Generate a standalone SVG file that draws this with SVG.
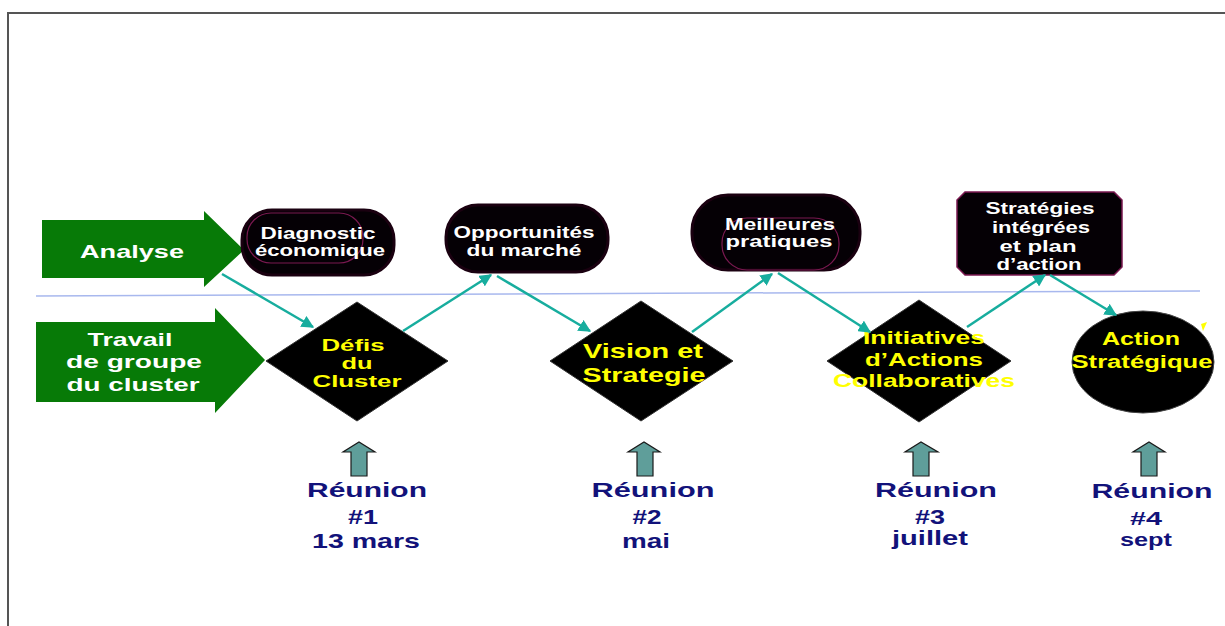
<svg xmlns="http://www.w3.org/2000/svg" width="1225" height="626" viewBox="0 0 1225 626">
<defs>
<style>
text{font-family:"Liberation Sans",Arial,sans-serif;font-weight:bold;text-anchor:middle}
.w{fill:#ffffff;font-size:16px}
.y{fill:#ffff00}
.g{fill:#ffffff;font-size:19px}
.n{fill:#12127a;font-size:21px}
.box{fill:#050005;stroke:#1a0010;stroke-width:3}
.inner{fill:none;stroke:#7a1850;stroke-width:1.2}
.dia{fill:#000000;stroke:#333;stroke-width:1}
.green{fill:#077a07}
.con{stroke:#17ad9e;stroke-width:2.5;fill:none;marker-end:url(#ah)}
.up{fill:#5f9e9a;stroke:#1a1a1a;stroke-width:1.2}
</style>
<marker id="ah" viewBox="0 0 10 10" refX="9" refY="5" markerWidth="5" markerHeight="5" orient="auto" markerUnits="strokeWidth">
<path d="M0,0 L10,5 L0,10 z" fill="#17ad9e"/>
</marker>
</defs>
<rect width="1225" height="626" fill="#ffffff"/>
<path d="M8,626 V13 H1225" fill="none" stroke="#555" stroke-width="2"/>
<line x1="36" y1="296" x2="1200" y2="291" stroke="#a8b8ee" stroke-width="1.5"/>

<g id="analyse">
<path class="green" d="M42,220 H204 V211 L244,250 L204,287 V278 H42 Z"/>
<text class="g" x="132" y="258" textLength="104" lengthAdjust="spacingAndGlyphs">Analyse</text>
</g>
<g id="travail">
<path class="green" d="M36,322 H215 V308 L265,360 L215,413 V402 H36 Z"/>
<text class="g" x="130" y="346" textLength="85" lengthAdjust="spacingAndGlyphs">Travail</text>
<text class="g" x="134" y="368" textLength="136" lengthAdjust="spacingAndGlyphs">de groupe</text>
<text class="g" x="133" y="391" textLength="133" lengthAdjust="spacingAndGlyphs">du cluster</text>
</g>

<g id="diagnostic">
<rect class="box" x="242" y="210" width="152" height="65" rx="30"/>
<rect class="inner" x="247" y="213" width="116" height="50" rx="24"/>
<text class="w" x="318" y="239" textLength="115" lengthAdjust="spacingAndGlyphs">Diagnostic</text>
<text class="w" x="320" y="256" textLength="130" lengthAdjust="spacingAndGlyphs">économique</text>
</g>
<g id="opportunites">
<rect class="box" x="446" y="205" width="162" height="67" rx="32"/>
<text class="w" x="524" y="238" textLength="141" lengthAdjust="spacingAndGlyphs">Opportunités</text>
<text class="w" x="524" y="256" textLength="115" lengthAdjust="spacingAndGlyphs">du marché</text>
</g>
<g id="meilleures">
<rect class="box" x="692" y="195" width="168" height="75" rx="36"/>
<rect class="inner" x="722" y="218" width="117" height="52" rx="25"/>
<text class="w" x="780" y="230" textLength="110" lengthAdjust="spacingAndGlyphs">Meilleures</text>
<text class="w" x="779" y="247" textLength="107" lengthAdjust="spacingAndGlyphs">pratiques</text>
</g>
<g id="strategies">
<path d="M965,192 H1114 L1122,200 V267 L1114,275 H965 L957,267 V200 Z" fill="#050005" stroke="#7a1850" stroke-width="1.5"/>
<text class="w" x="1040" y="214" textLength="109" lengthAdjust="spacingAndGlyphs">Stratégies</text>
<text class="w" x="1041" y="233" textLength="98" lengthAdjust="spacingAndGlyphs">intégrées</text>
<text class="w" x="1038" y="252" textLength="77" lengthAdjust="spacingAndGlyphs">et plan</text>
<text class="w" x="1039" y="270" textLength="85" lengthAdjust="spacingAndGlyphs">d’action</text>
</g>

<g id="defis">
<path class="dia" d="M357,302 L448,361 L357,421 L266,361 Z"/>
<text class="y" style="font-size:17px" x="353" y="351" textLength="63" lengthAdjust="spacingAndGlyphs">Défis</text>
<text class="y" style="font-size:17px" x="357" y="369" textLength="31" lengthAdjust="spacingAndGlyphs">du</text>
<text class="y" style="font-size:17px" x="357" y="387" textLength="89" lengthAdjust="spacingAndGlyphs">Cluster</text>
</g>
<g id="vision">
<path class="dia" d="M641,301 L733,361 L641,421 L550,361 Z"/>
<text class="y" style="font-size:21px" x="643" y="358" textLength="120" lengthAdjust="spacingAndGlyphs">Vision et</text>
<text class="y" style="font-size:21px" x="644" y="382" textLength="123" lengthAdjust="spacingAndGlyphs">Strategie</text>
</g>
<g id="initiatives">
<path class="dia" d="M919,300 L1011,361 L919,422 L827,361 Z" stroke="#777"/>
<text class="y" style="font-size:18px" x="924" y="344" textLength="122" lengthAdjust="spacingAndGlyphs">Initiatives</text>
<text class="y" style="font-size:18px" x="924" y="366" textLength="118" lengthAdjust="spacingAndGlyphs">d’Actions</text>
<text class="y" style="font-size:18px" x="924" y="387" textLength="182" lengthAdjust="spacingAndGlyphs">Collaboratives</text>
</g>
<g id="action">
<ellipse cx="1143" cy="362" rx="71" ry="51" fill="#000000" stroke="#444" stroke-width="1"/>
<path d="M1201,324 L1207,322 L1203,331 Z" fill="#ffff00"/>
<text class="y" style="font-size:18px" x="1141" y="345" textLength="78" lengthAdjust="spacingAndGlyphs">Action</text>
<text class="y" style="font-size:18px" x="1142" y="368" textLength="141" lengthAdjust="spacingAndGlyphs">Stratégique</text>
</g>

<g id="connectors">
<line class="con" x1="222" y1="274" x2="313" y2="327"/>
<line class="con" x1="403" y1="331" x2="491" y2="275"/>
<line class="con" x1="497" y1="276" x2="590" y2="331"/>
<line class="con" x1="692" y1="332" x2="772" y2="274"/>
<line class="con" x1="778" y1="273" x2="870" y2="332"/>
<line class="con" x1="967" y1="327" x2="1045" y2="275"/>
<line class="con" x1="1050" y1="275" x2="1116" y2="315"/>
</g>

<g id="reunion1">
<path class="up" d="M351,476 V452 H343 L359,442 L375,452 H367 V476 Z"/>
<text class="n" x="367" y="497" textLength="120" lengthAdjust="spacingAndGlyphs">Réunion</text>
<text class="n" x="363" y="524" textLength="30" lengthAdjust="spacingAndGlyphs">#1</text>
<text class="n" x="366" y="548" textLength="108" lengthAdjust="spacingAndGlyphs">13 mars</text>
</g>
<g id="reunion2">
<path class="up" d="M637,476 V452 H628 L644,442 L660,452 H653 V476 Z"/>
<text class="n" x="653" y="497" textLength="123" lengthAdjust="spacingAndGlyphs">Réunion</text>
<text class="n" x="647" y="524" textLength="29" lengthAdjust="spacingAndGlyphs">#2</text>
<text class="n" x="646" y="548" textLength="48" lengthAdjust="spacingAndGlyphs">mai</text>
</g>
<g id="reunion3">
<path class="up" d="M913,476 V452 H905 L921,442 L938,452 H929 V476 Z"/>
<text class="n" x="936" y="497" textLength="122" lengthAdjust="spacingAndGlyphs">Réunion</text>
<text class="n" x="930" y="524" textLength="30" lengthAdjust="spacingAndGlyphs">#3</text>
<text class="n" x="930" y="545" textLength="76" lengthAdjust="spacingAndGlyphs">juillet</text>
</g>
<g id="reunion4">
<path class="up" d="M1141,476 V452 H1133 L1149,442 L1165,452 H1157 V476 Z"/>
<text class="n" x="1152" y="498" textLength="121" lengthAdjust="spacingAndGlyphs">Réunion</text>
<text class="n" style="font-size:19px" x="1146" y="525" textLength="32" lengthAdjust="spacingAndGlyphs">#4</text>
<text class="n" style="font-size:19px" x="1146" y="546" textLength="52" lengthAdjust="spacingAndGlyphs">sept</text>
</g>
</svg>
